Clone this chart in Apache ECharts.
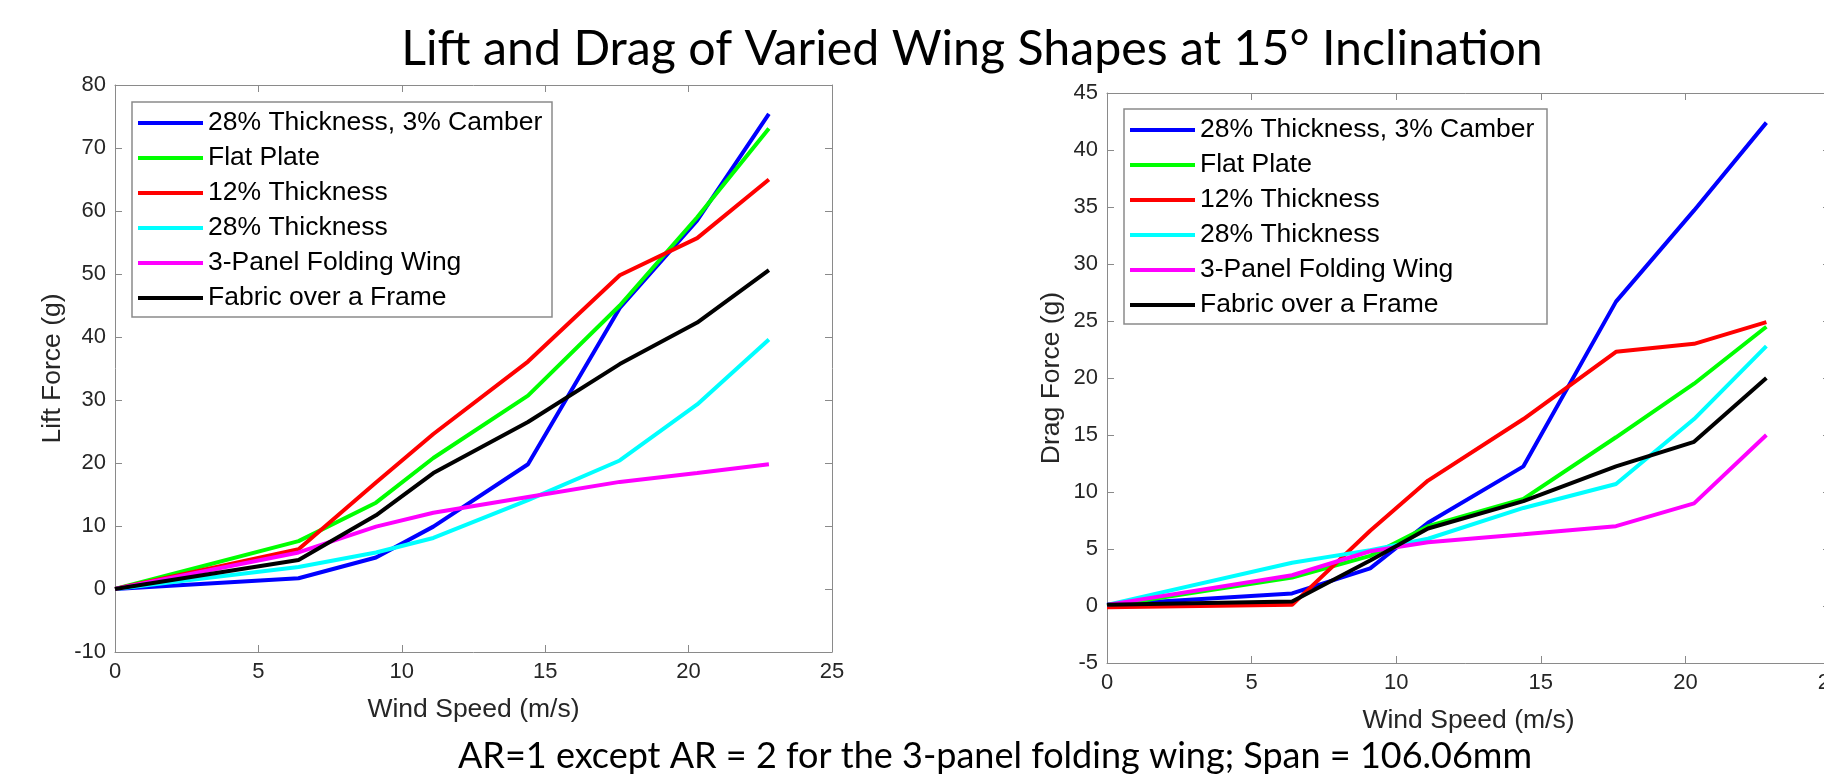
<!DOCTYPE html>
<html>
<head>
<meta charset="utf-8">
<script src="https://cdn.jsdelivr.net/npm/echarts@6/dist/echarts.min.js"></script>
<style>
html,body{margin:0;padding:0;background:#fff;}
#chart{width:1824px;height:774px;}
</style>
</head>
<body>
<div id="chart"></div>
<script>
const titleText = 'Lift and Drag of Varied Wing Shapes at 15° Inclination';
const footText = 'AR=1 except AR = 2 for the 3-panel folding wing; Span = 106.06mm';
const seriesNames = ['28% Thickness, 3% Camber', 'Flat Plate', '12% Thickness', '28% Thickness', '3-Panel Folding Wing', 'Fabric over a Frame'];
const seriesColors = ['#0000ff', '#00ff00', '#ff0000', '#00ffff', '#ff00ff', '#000000'];
const windSpeed = [0, 6.4, 9.1, 11.1, 14.4, 17.6, 20.3, 22.8];

const liftCamber  = [0, 1.7, 5.0, 9.9, 19.8, 44.6, 58.5, 75.4];
const liftFlat    = [0, 7.6, 13.7, 20.8, 30.7, 45.0, 59.0, 73.1];
const lift12      = [0, 6.3, 16.9, 24.6, 36.1, 49.8, 55.7, 65.0];
const lift28      = [0, 3.5, 5.8, 8.1, 14.1, 20.4, 29.3, 39.6];
const liftFolding = [0, 5.8, 9.9, 12.1, 14.6, 17.0, 18.4, 19.8];
const liftFabric  = [0, 4.6, 11.7, 18.4, 26.5, 35.7, 42.3, 50.6];

const dragCamber  = [0.1, 1.1, 3.3, 7.3, 12.25, 26.7, 34.7, 42.4];
const dragFlat    = [0, 2.5, 4.4, 7.0, 9.4, 14.8, 19.5, 24.5];
const drag12      = [-0.1, 0.1, 6.6, 11.0, 16.4, 22.3, 23.0, 24.9];
const drag28      = [0.1, 3.8, 4.9, 5.9, 8.6, 10.7, 16.4, 22.8];
const dragFolding = [0.1, 2.7, 4.8, 5.6, 6.3, 7.0, 9.0, 15.0];
const dragFabric  = [0.1, 0.4, 4.0, 6.8, 9.2, 12.25, 14.4, 20.0];

const liftXTicks = [0, 25, 5];
const liftYTicks = [-10, 80, 10];
const dragXTicks = [0, 25, 5];
const dragYTicks = [-5, 45, 5];

const liftData = [liftCamber, liftFlat, lift12, lift28, liftFolding, liftFabric];
const dragData = [dragCamber, dragFlat, drag12, drag28, dragFolding, dragFabric];

const AX = '#8a8a8a';
const LBL = '#262626';
const AXFONT = '"Liberation Sans", Arial, sans-serif';
const TITLEFONT = 'Lato, "Open Sans", sans-serif';

function pairs(ys){ return windSpeed.map((x,i)=>[x, ys[i]]); }

function mkAxis(ticks, gridIndex, position, showLabel, name, nameGap){
  const a = {
    type: 'value', gridIndex: gridIndex, position: position,
    min: ticks[0], max: ticks[1], interval: ticks[2],
    axisLine: {show: true, onZero: false, lineStyle: {color: AX, width: 1}},
    axisTick: {show: true, inside: true, length: 7, lineStyle: {color: AX, width: 1}},
    splitLine: {show: false},
    axisLabel: {show: showLabel, color: LBL, fontSize: 22, fontFamily: AXFONT, margin: 9, hideOverlap: false}
  };
  if (name) {
    a.name = name; a.nameLocation = 'middle'; a.nameGap = nameGap;
    a.nameTextStyle = {color: LBL, fontSize: 26.5, fontFamily: AXFONT};
  }
  return a;
}

const chart = echarts.init(document.getElementById('chart'), null, {renderer: 'canvas'});

const series = [];
seriesNames.forEach((n, i) => {
  series.push({name: n, type: 'line', xAxisIndex: 0, yAxisIndex: 0, data: pairs(liftData[i]),
    showSymbol: false, symbol: 'none', lineStyle: {width: 4, color: seriesColors[i]}, itemStyle: {color: seriesColors[i]}, z: 2 + i});
});
seriesNames.forEach((n, i) => {
  series.push({name: n, type: 'line', xAxisIndex: 2, yAxisIndex: 2, data: pairs(dragData[i]),
    showSymbol: false, symbol: 'none', lineStyle: {width: 4, color: seriesColors[i]}, itemStyle: {color: seriesColors[i]}, z: 2 + i});
});

function mkLegend(left, top, width){
  return {
    data: seriesNames, orient: 'vertical', left: left, top: top,
    icon: 'rect', itemWidth: 65, itemHeight: 4, itemGap: 5,
    padding: [6, 8, 4, 6],
    backgroundColor: '#fff', borderColor: '#8a8a8a', borderWidth: 1.5,
    textStyle: {color: '#000', fontSize: 26.5, fontFamily: AXFONT, lineHeight: 30, width: width},
    selectedMode: false
  };
}

chart.setOption({
  animation: false,
  backgroundColor: '#fff',
  grid: [
    {left: 115, top: 85, width: 717, height: 567, outerBoundsMode: 'none', containLabel: false},
    {left: 1107, top: 93, width: 723, height: 570, outerBoundsMode: 'none', containLabel: false}
  ],
  xAxis: [
    mkAxis(liftXTicks, 0, 'bottom', true, 'Wind Speed (m/s)', 44),
    mkAxis(liftXTicks, 0, 'top', false),
    mkAxis(dragXTicks, 1, 'bottom', true, 'Wind Speed (m/s)', 44),
    mkAxis(dragXTicks, 1, 'top', false)
  ],
  yAxis: [
    mkAxis(liftYTicks, 0, 'left', true, 'Lift Force (g)', 49),
    mkAxis(liftYTicks, 0, 'right', false),
    mkAxis(dragYTicks, 1, 'left', true, 'Drag Force (g)', 42),
    mkAxis(dragYTicks, 1, 'right', false)
  ],
  legend: [mkLegend(132, 102, 336), mkLegend(1124, 109, 339)],
  series: series,
  graphic: [
    {type: 'text', x: 972, y: 25, style: {text: titleText, font: '48.3px ' + TITLEFONT, fill: '#000', align: 'center', verticalAlign: 'top'}},
    {type: 'text', x: 995, y: 738, style: {text: footText, font: '36px ' + TITLEFONT, fill: '#000', align: 'center', verticalAlign: 'top'}}
  ]
});
</script>
</body>
</html>
